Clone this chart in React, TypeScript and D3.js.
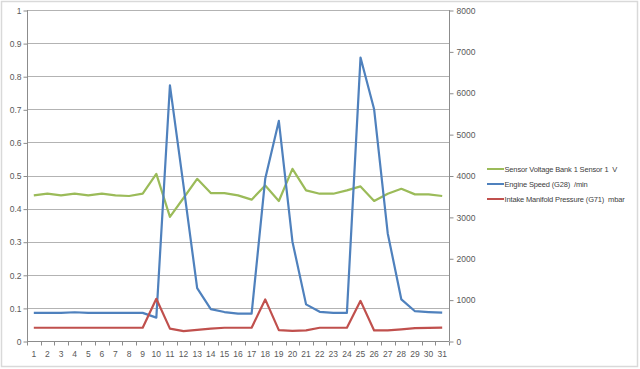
import React, { useEffect, useRef } from "react";
import * as d3 from "d3";

const categories = d3.range(1, 32);
const voltage = [0.44, 0.445, 0.44, 0.445, 0.44, 0.445, 0.44, 0.438, 0.445, 0.505, 0.375, 0.432, 0.49, 0.447, 0.447, 0.44, 0.427, 0.47, 0.423, 0.52, 0.455, 0.445, 0.445, 0.455, 0.467, 0.423, 0.445, 0.46, 0.443, 0.443, 0.438];
const engineSpeed = [680, 680, 680, 695, 680, 680, 680, 680, 680, 565, 6180, 3750, 1280, 770, 700, 660, 660, 3920, 5320, 2400, 885, 705, 680, 680, 6850, 5600, 2600, 1005, 720, 700, 685];
const pressure = [320, 320, 320, 320, 320, 320, 320, 320, 320, 1020, 300, 240, 270, 300, 320, 320, 320, 1005, 262, 245, 258, 320, 320, 320, 970, 255, 255, 280, 312, 315, 325];
const leftTicks = d3.range(0, 1.01, 0.1);
const rightTicks = d3.range(0, 8001, 1000);
const seriesNames = ["Sensor Voltage Bank 1 Sensor 1  V", "Engine Speed (G28)  /min", "Intake Manifold Pressure (G71)  mbar"];
const seriesColors = ["#9bbb59", "#4f81bd", "#c0504d"];

const drawChart = (node: SVGSVGElement) => {
  var svg = d3.select(node);
  svg.selectAll("*").remove();
  var left = 27, right = 449, top = 10, bottom = 341;
  var font = "'Liberation Sans', Arial, sans-serif";

  // chart area border
  svg.append("rect").attr("x", 1.5).attr("y", 1.5).attr("width", 636).attr("height", 365)
    .attr("fill", "#fff").attr("stroke", "#d9d9d9").attr("stroke-width", 1.5);

  var x = d3.scaleBand<number>().domain(categories).range([left, right]);
  var yL = d3.scaleLinear().domain([0, 1]).range([bottom, top]);
  var yR = d3.scaleLinear().domain([0, 8000]).range([bottom, top]);

  // gridlines
  svg.append("g").selectAll("line").data(leftTicks.slice(1)).enter().append("line")
    .attr("x1", left).attr("x2", right)
    .attr("y1", (d) => Math.round(yL(d)) + 0.5).attr("y2", (d) => Math.round(yL(d)) + 0.5)
    .attr("stroke", "#b3b3b3").attr("stroke-width", 1);

  var axisColor = "#8c8c8c";
  var textColor = "#595959";

  // left axis
  var gl = svg.append("g").attr("transform", "translate(" + (left + 0.5) + ",0.5)")
    .call(d3.axisLeft(yL).tickValues(leftTicks).tickSize(4).tickPadding(2).tickFormat((d) => d3.format("~g")(+d)));
  // right axis
  var gr = svg.append("g").attr("transform", "translate(" + (right + 0.5) + ",0.5)")
    .call(d3.axisRight(yR).tickValues(rightTicks).tickSize(4).tickPadding(3).tickFormat((d) => String(d)));
  // bottom axis
  var gb = svg.append("g").attr("transform", "translate(0," + (bottom + 0.5) + ")")
    .call(d3.axisBottom(x).tickSize(0).tickPadding(9));
  gb.selectAll(".tick line").remove();
  gb.append("g").selectAll("line").data(d3.range(0, categories.length + 1)).enter().append("line")
    .attr("x1", (i) => Math.round(left + i * x.step()) + 0.5).attr("x2", (i) => Math.round(left + i * x.step()) + 0.5)
    .attr("y1", 0).attr("y2", 4).attr("stroke", axisColor);

  [gl, gr, gb].forEach((g) => {
    g.select(".domain").attr("stroke", axisColor);
    g.selectAll(".tick line").attr("stroke", axisColor);
    g.selectAll("text").attr("fill", textColor).style("font-family", font).style("font-size", "8.5px");
  });
  gl.select(".domain").attr("d", "M0," + (top - 0.5) + "V" + (bottom - 0.5));
  gr.select(".domain").attr("d", "M0," + (top - 0.5) + "V" + (bottom - 0.5));
  gb.select(".domain").attr("d", "M" + left + ",0H" + right);

  var lineL = d3.line<number>().x((d, i) => x(categories[i])! + x.bandwidth() / 2).y((d) => yL(d));
  var lineR = d3.line<number>().x((d, i) => x(categories[i])! + x.bandwidth() / 2).y((d) => yR(d));

  svg.append("path").attr("d", lineL(voltage)).attr("fill", "none").attr("stroke", seriesColors[0]).attr("stroke-width", 2.2).attr("stroke-linejoin", "round");
  svg.append("path").attr("d", lineR(engineSpeed)).attr("fill", "none").attr("stroke", seriesColors[1]).attr("stroke-width", 2.2).attr("stroke-linejoin", "round");
  svg.append("path").attr("d", lineR(pressure)).attr("fill", "none").attr("stroke", seriesColors[2]).attr("stroke-width", 2.2).attr("stroke-linejoin", "round");

  // legend
  var legend = svg.append("g").selectAll("g").data(seriesNames).enter().append("g")
    .attr("transform", (d, i) => "translate(487," + (169 + i * 15) + ")");
  legend.append("line").attr("x1", 0).attr("x2", 17).attr("y1", 0).attr("y2", 0)
    .attr("stroke", (d, i) => seriesColors[i]).attr("stroke-width", 2);
  legend.append("text").attr("x", 17.5).attr("y", 3).text((d) => d)
    .attr("fill", "#404040").style("font-family", font).style("font-size", "7.5px")
    .style("white-space", "pre").style("letter-spacing", "-0.15px");
};

const App = () => {
  const ref = useRef<SVGSVGElement>(null);
  useEffect(() => {
    if (ref.current) drawChart(ref.current);
  });
  return (
    <svg ref={ref} width={640} height={369} style={{ position: "absolute", left: 0, top: 0 }}></svg>
  );
};

export default App;
